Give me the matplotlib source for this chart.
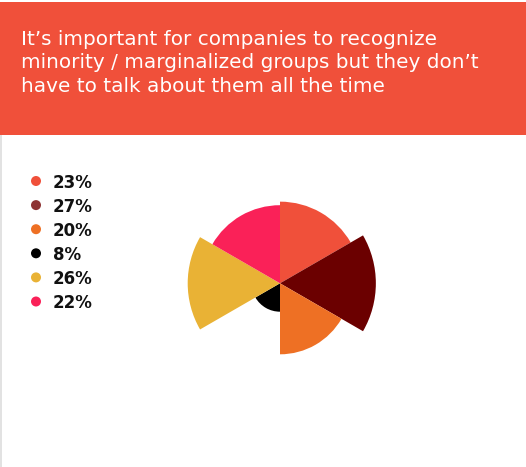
import numpy as np
import matplotlib.pyplot as plt
import matplotlib.patches as patches

W, H = 526, 467
DPI = 100

values = [23, 27, 20, 8, 26, 22]
labels = ['23%', '27%', '20%', '8%', '26%', '22%']
colors = ['#F0503A', '#6B0000', '#EE7024', '#000000', '#E9B235', '#FA2158']
legend_colors = ['#F0503A', '#8E3434', '#EE7024', '#000000', '#E9B235', '#FA2158']
title_lines = [
    'It\u2019s important for companies to recognize',
    'minority / marginalized groups but they don\u2019t',
    'have to talk about them all the time',
]

header_color = '#F0503A'


def px(x, y):
    # pixel coords from top-left -> figure fraction
    return x / W, 1 - y / H


fig = plt.figure(figsize=(W / DPI, H / DPI), dpi=DPI)
fig.patch.set_facecolor('white')

# header band
x0, y0 = px(0, 135)
fig.patches.append(patches.Rectangle((x0, y0), 1, 133 / H, transform=fig.transFigure,
                                     facecolor=header_color, edgecolor='none', zorder=0))
# thin grey rule down the left edge
fig.patches.append(patches.Rectangle((0, 0), 2 / W, 1 - 135 / H, transform=fig.transFigure,
                                     facecolor='#E2E2E2', edgecolor='none', zorder=0))

for i, line in enumerate(title_lines):
    tx, ty = px(21, 45 + i * 23.5)
    fig.text(tx, ty, line, color='white', fontsize=14.4, family='DejaVu Sans',
             va='baseline', ha='left')

# legend: dot + value
for i, (lab, c) in enumerate(zip(labels, legend_colors)):
    cy = 181 + i * 24.1
    dx, dy = px(36, cy)
    fig.patches.append(patches.Ellipse((dx, dy), 10 / W, 10 / H, transform=fig.transFigure,
                                       facecolor=c, edgecolor='none'))
    lx, ly = px(53, cy)
    fig.text(lx, ly, lab, color='#111111', fontsize=12, fontweight='bold',
             family='DejaVu Sans', va='center_baseline', ha='left')

# polar area chart
half = 110
cx, cy = 280, 283.3
px_per_unit = 3.55
ax = fig.add_axes([(cx - half) / W, (H - cy - half) / H, 2 * half / W, 2 * half / H],
                  projection='polar')
ax.set_theta_zero_location('N')
ax.set_theta_direction(-1)
n = len(values)
theta = np.deg2rad(np.arange(n) * 360 / n + 180 / n)
ax.bar(theta, values, width=np.deg2rad(360 / n), color=colors, edgecolor='none',
       align='center')
ax.set_ylim(0, half / px_per_unit)
ax.set_axis_off()

fig.savefig('out.png', dpi=DPI, facecolor='white')
